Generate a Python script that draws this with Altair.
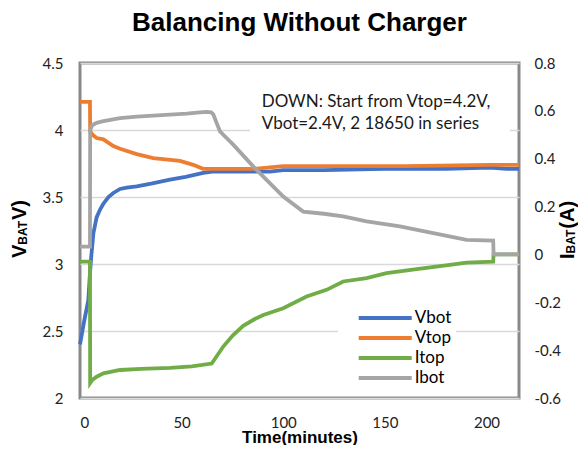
import altair as alt
import pandas as pd

series_names = ["Vbot", "Vtop", "Itop", "Ibot"]
series_colors = ["#4472C4", "#ED7D31", "#70AD47", "#A5A5A5"]

x_ticks = [0, 50, 100, 150, 200]
v_ticks = [2, 2.5, 3, 3.5, 4, 4.5]
i_ticks = [-0.6, -0.4, -0.2, 0, 0.2, 0.4, 0.6, 0.8]

vbot_t = [0, 2, 4.1, 4.9, 5.5, 6.6, 8.2, 10, 11.5, 14, 16.4, 19.7, 23, 27.9, 35, 44.3,
          52, 60.6, 65, 68.9, 80, 93.4, 100, 120, 150, 180, 201.7, 210, 216]
vbot_v = [2.40, 2.57, 2.73, 2.93, 3.05, 3.23, 3.35, 3.41, 3.45, 3.50, 3.53, 3.56, 3.57, 3.58,
          3.60, 3.63, 3.65, 3.68, 3.69, 3.69, 3.69, 3.69, 3.70, 3.70, 3.71, 3.71, 3.72, 3.71, 3.71]

vtop_t = [0, 4.9, 5.0, 6.5, 8.2, 11.5, 16.4, 19.7, 27.9, 36, 49.2, 55.7, 60.6, 68.9, 85.2,
          100, 130, 160, 201.7, 216]
vtop_v = [4.21, 4.21, 3.99, 3.96, 3.94, 3.93, 3.88, 3.86, 3.82, 3.79, 3.77, 3.74, 3.71, 3.71,
          3.71, 3.73, 3.73, 3.73, 3.74, 3.74]

itop_t = [0, 4.9, 5.0, 6, 8.2, 11.5, 19.7, 30, 44.3, 55, 64.8, 66.5, 70.5, 75, 80.3, 86, 90.2,
          100, 111.5, 121.3, 129.5, 141, 150.8, 165.6, 182, 190.2, 203.3, 203.5, 216]
itop_i = [-0.03, -0.03, -0.537, -0.525, -0.511, -0.497, -0.483, -0.478, -0.474, -0.468, -0.456,
          -0.435, -0.385, -0.34, -0.298, -0.27, -0.253, -0.225, -0.176, -0.148, -0.113, -0.099,
          -0.078, -0.061, -0.044, -0.034, -0.03, 0.0, 0.0]

ibot_t = [0, 4.9, 5.0, 6, 8.2, 11.5, 19.7, 28, 36, 52.5, 59, 62.3, 64.5, 65.6, 67.2, 68.9, 70.5,
          75.4, 85.2, 100, 109.8, 120, 129.5, 141, 157.4, 173.8, 190.2, 203.3, 203.5, 216]
ibot_i = [0.033, 0.033, 0.52, 0.54, 0.55, 0.557, 0.570, 0.576, 0.580, 0.588, 0.594, 0.596, 0.594,
          0.585, 0.55, 0.514, 0.50, 0.459, 0.368, 0.242, 0.179, 0.170, 0.159, 0.138, 0.117,
          0.089, 0.061, 0.058, 0.0, 0.0]

annotation = "DOWN: Start from Vtop=4.2V,\nVbot=2.4V, 2 18650 in series"


def frame(name, t, vals):
    return pd.DataFrame({"series": name, "t": t, "val": vals, "idx": range(len(t))})


df_vbot = frame("Vbot", vbot_t, vbot_v)
df_vtop = frame("Vtop", vtop_t, vtop_v)
df_itop = frame("Itop", itop_t, itop_i)
df_ibot = frame("Ibot", ibot_t, ibot_i)

LABEL_FONT = "Lato"
BOLD_FONT = "Liberation Sans"

x_enc = alt.X(
    "t:Q",
    scale=alt.Scale(domain=[0, 216], nice=False, zero=False),
    axis=alt.Axis(values=x_ticks, title="Time(minutes)", labelPadding=17,
                  titleY=44, titleBaseline="alphabetic", titleFontSize=17),
)

yv_enc = alt.Y(
    "val:Q",
    scale=alt.Scale(domain=[2, 4.5], nice=False, zero=False),
    axis=alt.Axis(values=v_ticks, orient="left", title=None, grid=True,
                  labelExpr="toString(datum.value)", labelPadding=17),
)
yi_enc = alt.Y(
    "val:Q",
    scale=alt.Scale(domain=[-0.6, 0.8], nice=False, zero=False),
    axis=alt.Axis(values=i_ticks, orient="right", title=None, grid=False,
                  labelExpr="toString(datum.value)", labelPadding=15),
)

legend = alt.Legend(
    title=None, orient="none", legendX=258, legendY=241, symbolType="stroke",
    symbolSize=2809, symbolStrokeWidth=4, labelFont=LABEL_FONT, labelFontSize=17,
    labelColor="black", fillColor="white", padding=4, rowPadding=0, clipHeight=20,
    symbolOffset=14.7, labelOffset=1,
)
color_enc = alt.Color("series:N", scale=alt.Scale(domain=series_names, range=series_colors),
                      legend=legend)


def line_layer(df, yenc):
    return alt.Chart(df).mark_line(strokeWidth=3.8).encode(
        x=x_enc, y=yenc, color=color_enc, order="idx:Q"
    )


one = alt.Data(values=[{}])

box = alt.Chart(one).mark_rect(color="white").encode(
    x=alt.datum(83.6), x2=alt.datum(211.5), y=alt.datum(3.89), y2=alt.datum(4.48)
)
note = alt.Chart(one).mark_text(
    text=annotation, lineBreak="\n", align="left", baseline="alphabetic",
    font=LABEL_FONT, fontSize=17, lineHeight=22.6, color="#1a1a1a",
).encode(x=alt.datum(89.4), y=alt.datum(4.174))

left = alt.layer(box, note, line_layer(df_vbot, yv_enc), line_layer(df_vtop, yv_enc))
right = alt.layer(line_layer(df_itop, yi_enc), line_layer(df_ibot, yi_enc))


def title_piece(s, x, y, size):
    return alt.Chart(one).mark_text(
        text=s, angle=270, align="left", baseline="alphabetic", font=BOLD_FONT,
        fontWeight="bold", fontSize=size, color="black",
    ).encode(x=alt.value(x), y=alt.value(y))


titles = [
    title_piece("V", -54, 195, 20),
    title_piece("BAT", -53, 181.7, 12),
    title_piece("V)", -54, 157, 20),
    title_piece("I", 494, 196, 20),
    title_piece("BAT", 495, 190.4, 12),
    title_piece("(A)", 494, 165.7, 20),
]

chart = (
    alt.layer(left, right, *titles)
    .resolve_scale(y="independent")
    .properties(
        width=439, height=335,
        autosize=alt.AutoSizeParams(type="none"),
        padding={"left": 72, "top": 55, "right": 59, "bottom": 47},
        title=alt.Title("Balancing Without Charger", font=BOLD_FONT, fontWeight="bold",
                        fontSize=26, color="black", anchor="middle", offset=20),
        background="white",
    )
    .configure_view(stroke="#898989", strokeWidth=3)
    .configure_axis(
        labelFont=LABEL_FONT, labelFontSize=15, labelColor="#222222", domain=False,
        ticks=False, tickSize=0, gridColor="#d9d9d9", gridWidth=1.3,
        titleFont=BOLD_FONT, titleFontWeight="bold", titleFontSize=18, titleColor="black",
    )
)

chart.save("out.html", embed_options={"renderer": "svg", "actions": False})
